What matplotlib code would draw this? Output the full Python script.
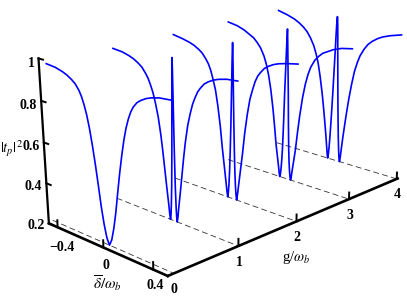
import numpy as np
import matplotlib
matplotlib.use('Agg')
import matplotlib.pyplot as plt

plt.rcParams['font.family'] = ['Liberation Serif', 'DejaVu Serif']
plt.rcParams['mathtext.fontset'] = 'stix'

# half curves, delta >= 0, mirrored later
d_g0 = [0, .02, .04, .06, .08, .10, .12, .14, .16, .18, .20, .22, .25, .28, .32, .36, .42, .5]
z_g0 = [.2, .23, .29, .37, .47, .565, .65, .725, .785, .83, .865, .89, .915, .93, .945, .955, .965, .97]
d_g1 = [0, .002, .004, .007, .01, .015, .02, .024, .028, .034, .04, .055, .07, .085, .1, .12, .14, .16,
        .18, .2, .22, .25, .28, .32, .36, .42, .5]
z_g1 = [1, .95, .85, .7, .55, .37, .27, .22, .2, .225, .265, .35, .44, .53, .61, .695, .755, .805,
        .84, .87, .89, .915, .93, .945, .955, .965, .97]
d_g2 = [0, .002, .004, .008, .012, .017, .022, .027, .032, .037, .043, .05, .065, .083, .1, .12, .14, .16,
        .18, .2, .22, .25, .28, .32, .36, .42, .5]
z_g2 = [1, .96, .9, .74, .59, .45, .34, .27, .225, .2, .225, .265, .35, .45, .56, .66, .74, .79,
        .835, .865, .885, .91, .925, .94, .95, .96, .97]
d_g3 = [0, .002, .005, .01, .015, .02, .026, .03, .035, .04, .045, .05, .055, .065, .08, .095, .11, .13,
        .15, .17, .19, .22, .25, .28, .32, .36, .42, .5]
z_g3 = [1, .97, .9, .78, .66, .5, .36, .3, .25, .215, .2, .215, .245, .295, .37, .47, .56, .66,
        .735, .79, .83, .87, .895, .915, .93, .945, .96, .97]
d_g4 = [0, .002, .004, .007, .01, .015, .02, .025, .03, .035, .04, .045, .05, .055, .06, .07, .083, .095,
        .11, .13, .15, .17, .19, .22, .25, .28, .32, .36, .42, .5]
z_g4 = [1, .99, .96, .9, .82, .71, .6, .5, .41, .33, .265, .22, .2, .225, .26, .33, .41, .48,
        .56, .65, .725, .775, .815, .855, .885, .905, .925, .94, .955, .97]

g_values = [0, 1, 2, 3, 4]
delta_ticks = [-0.4, 0, 0.4]
delta_labels = ['\u22120.4', '0', '0.4']
z_ticks = [0.2, 0.4, 0.6, 0.8, 1]
z_labels = ['0.2', '0.4', '0.6', '0.8', '1']

# world (delta, g, z) -> pixel, fitted on a few points of the picture
CAL = [
    (-.5, 0, .2, 52, 221), (.5, 0, .2, 170, 272),
    (-.5, 1, .2, 118, 198), (.5, 1, .2, 238, 246),
    (-.5, 2, .2, 176, 178), (.5, 2, .2, 295, 220),
    (-.5, 3, .2, 229, 160), (.5, 3, .2, 347, 198),
    (-.5, 4, .2, 276, 142), (.5, 4, .2, 396, 180),
    (-.5, 0, .97, 46, 64), (.5, 0, .97, 172, 100),
    (-.5, 1, .97, 113, 48), (.5, 1, .97, 238, 81),
    (-.5, 2, .97, 173, 35), (.5, 2, .97, 298, 64),
    (-.5, 3, .97, 228, 22), (.5, 3, .97, 352, 49),
    (-.5, 4, .97, 278, 10), (.5, 4, .97, 402, 35),
]


def fit_camera(cal):
    rows = []
    for d, g, z, u, v in cal:
        w = [d, g, z, 1]
        rows.append(w + [0, 0, 0, 0] + [-u * a for a in w])
        rows.append([0, 0, 0, 0] + w + [-v * a for a in w])
    return np.linalg.svd(np.array(rows))[2][-1].reshape(3, 4)


CAM = fit_camera(CAL)


def project(d, g, z):
    d, g, z = np.broadcast_arrays(d, g, z)
    p = CAM @ np.vstack([d.ravel(), g.ravel(), z.ravel(), np.ones(d.size)]).astype(float)
    return p[0] / p[2], p[1] / p[2]


def mirror(half_d, half_z):
    half_d, half_z = np.array(half_d), np.array(half_z)
    return np.r_[-half_d[:0:-1], half_d], np.r_[half_z[:0:-1], half_z]


def z_axis_d(t):
    # the z axis leans a little more than the world vertical
    return -.48 - (t - .2) * .0375


fig = plt.figure(figsize=(4.07, 2.98), dpi=100)
ax = fig.add_axes([0, 0, 1, 1])
ax.set_xlim(0, 407)
ax.set_ylim(298, 0)
ax.axis('off')

AX_G = -0.09   # delta axis sits slightly in front of g=0
AX_D = 0.51
lab = dict(fontsize=10, fontweight='bold', color='black', ha='center', va='center')

# dashed floor lines
for g in g_values:
    x, y = project([-.5, .5], g, .2)
    ax.plot(x, y, color='#333333', lw=0.6, ls=(0, (7, 4)), zorder=1)

# curves
for g, hd, hz in zip(g_values, [d_g0, d_g1, d_g2, d_g3, d_g4], [z_g0, z_g1, z_g2, z_g3, z_g4]):
    d, z = mirror(hd, hz)
    x, y = project(d, g, z)
    ax.plot(x, y, color='#0000ff', lw=1.2, zorder=2)

# axes
x, y = project([-.48, AX_D], AX_G, .2)
ax.plot(x, y, color='k', lw=1.9, solid_capstyle='projecting', zorder=3)
x, y = project(AX_D, [AX_G, 4.02], .2)
ax.plot(x, y, color='k', lw=1.9, solid_capstyle='projecting', zorder=3)
x, y = project([z_axis_d(.2), z_axis_d(1)], AX_G, [.2, 1.0])
ax.plot(x, y, color='k', lw=1.6, zorder=3)

# ticks
for t in delta_ticks:
    x, y = project(t, AX_G, [.2, .235])
    ax.plot(x, y, color='k', lw=1.4, zorder=3)
for g in g_values[1:]:
    x, y = project(AX_D, g, [.2, .235])
    ax.plot(x, y, color='k', lw=1.4, zorder=3)
for t in z_ticks:
    x, y = project([z_axis_d(t), z_axis_d(t) + .04], AX_G, t)
    ax.plot(x, y, color='k', lw=1.4, zorder=3)

# tick labels
for t, s in zip(delta_ticks, delta_labels):
    x, y = project(t, AX_G, .2)
    ax.text(x[0] + 3 - 3.5 * t, y[0] + 18 - 5 * t, s, **lab)
for g in g_values:
    x, y = project(AX_D, g, .2)
    ax.text(x[0] + 0.5, y[0] + 16, str(g), **lab)
for t, s in zip(z_ticks, z_labels):
    x, y = project(z_axis_d(t), AX_G, t)
    ax.text(x[0] - 4, y[0] + 2 + (t - .2) * 4, s, fontsize=10, fontweight='bold', ha='right', va='center')

ax.text(11, 149, r'$|t_p|^2$', fontsize=10.5, ha='center', va='center')
ax.text(107, 283, r'$\overline{\delta}/\omega_b$', fontsize=11, ha='center', va='center')
ax.text(296, 258, r'g/$\omega_b$', fontsize=10.5, ha='center', va='center')

fig.savefig('out.png', dpi=100)
